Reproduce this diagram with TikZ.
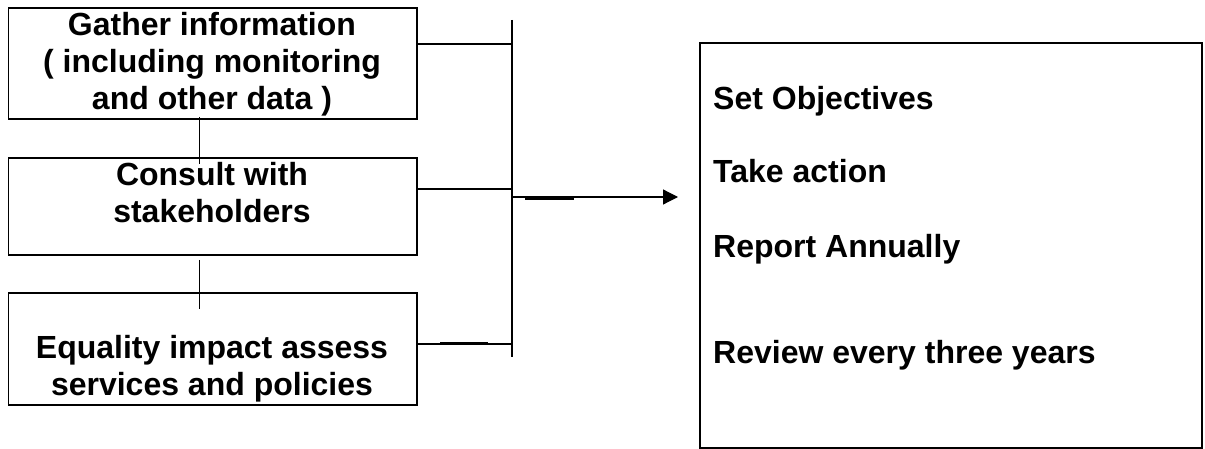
\documentclass[tikz,border=0pt]{standalone}
\usepackage{fontspec}
\setmainfont{Liberation Sans}
\usetikzlibrary{arrows.meta}
\begin{document}
\begin{tikzpicture}[x=1pt,y=-1pt,
  boxnode/.style={draw,line width=1.9pt,rectangle,inner sep=0pt,anchor=north west},
  lbl/.style={font=\fontsize{32}{37}\selectfont\bfseries,align=center,anchor=base,inner sep=0pt},
  rlbl/.style={font=\fontsize{32}{37}\selectfont\bfseries,anchor=base west,inner sep=0pt},
  conn/.style={line width=1.2pt},
  thick seg/.style={line width=2.4pt}]
\useasboundingbox (0,0) rectangle (1205,449);
% left boxes
\node[boxnode,minimum width=408.5pt,minimum height=111pt] (b1) at (7.5,7) {};
\node[boxnode,minimum width=408.5pt,minimum height=97pt] (b2) at (7.5,157) {};
\node[boxnode,minimum width=408.5pt,minimum height=112pt] (b3) at (7.5,292) {};
\node[lbl] (t1) at (212,110) {Gather information\\( including monitoring\\and other data )};
\node[lbl] (t2) at (212,223) {Consult with\\stakeholders};
\node[lbl] (t3) at (212,395) {Equality impact assess\\services and policies};
% right box
\node[boxnode,minimum width=502pt,minimum height=405pt] (rb) at (699,42) {};
\node[rlbl] (r1) at (713,110) {Set Objectives};
\node[rlbl] (r2) at (713,183) {Take action};
\node[rlbl] (r3) at (713,258) {Report Annually};
\node[rlbl] (r4) at (713,363) {Review every three years};
% vertical links between left boxes
\coordinate (v1a) at (199.5,117);
\coordinate (v1b) at (199.5,164);
\coordinate (v2a) at (199.5,260);
\coordinate (v2b) at (199.5,309);
\draw[conn] (v1a) -- (v1b);
\draw[conn] (v2a) -- (v2b);
% bus
\coordinate (busTop) at (512,20);
\coordinate (busBot) at (512,357);
\draw[conn] (busTop) -- (busBot);
\coordinate (j1) at (512,44);
\coordinate (j2) at (512,189);
\coordinate (j3) at (512,344);
\draw[conn] (b1.east |- j1) -- (j1);
\draw[conn] (b2.east |- j2) -- (j2);
\draw[conn] (b3.east |- j3) -- (j3);
\coordinate (s3a) at (440,343.5);
\coordinate (s3b) at (488,343.5);
\draw[thick seg] (s3a) -- (s3b);
% arrow
\coordinate (ja) at (512,197);
\coordinate (arrowEnd) at (678,197);
\draw[conn,-{Triangle[length=15pt,width=15pt]}] (ja) -- (arrowEnd);
\coordinate (sa) at (525,198.5);
\coordinate (sb) at (574,198.5);
\draw[thick seg] (sa) -- (sb);
\end{tikzpicture}
\end{document}
